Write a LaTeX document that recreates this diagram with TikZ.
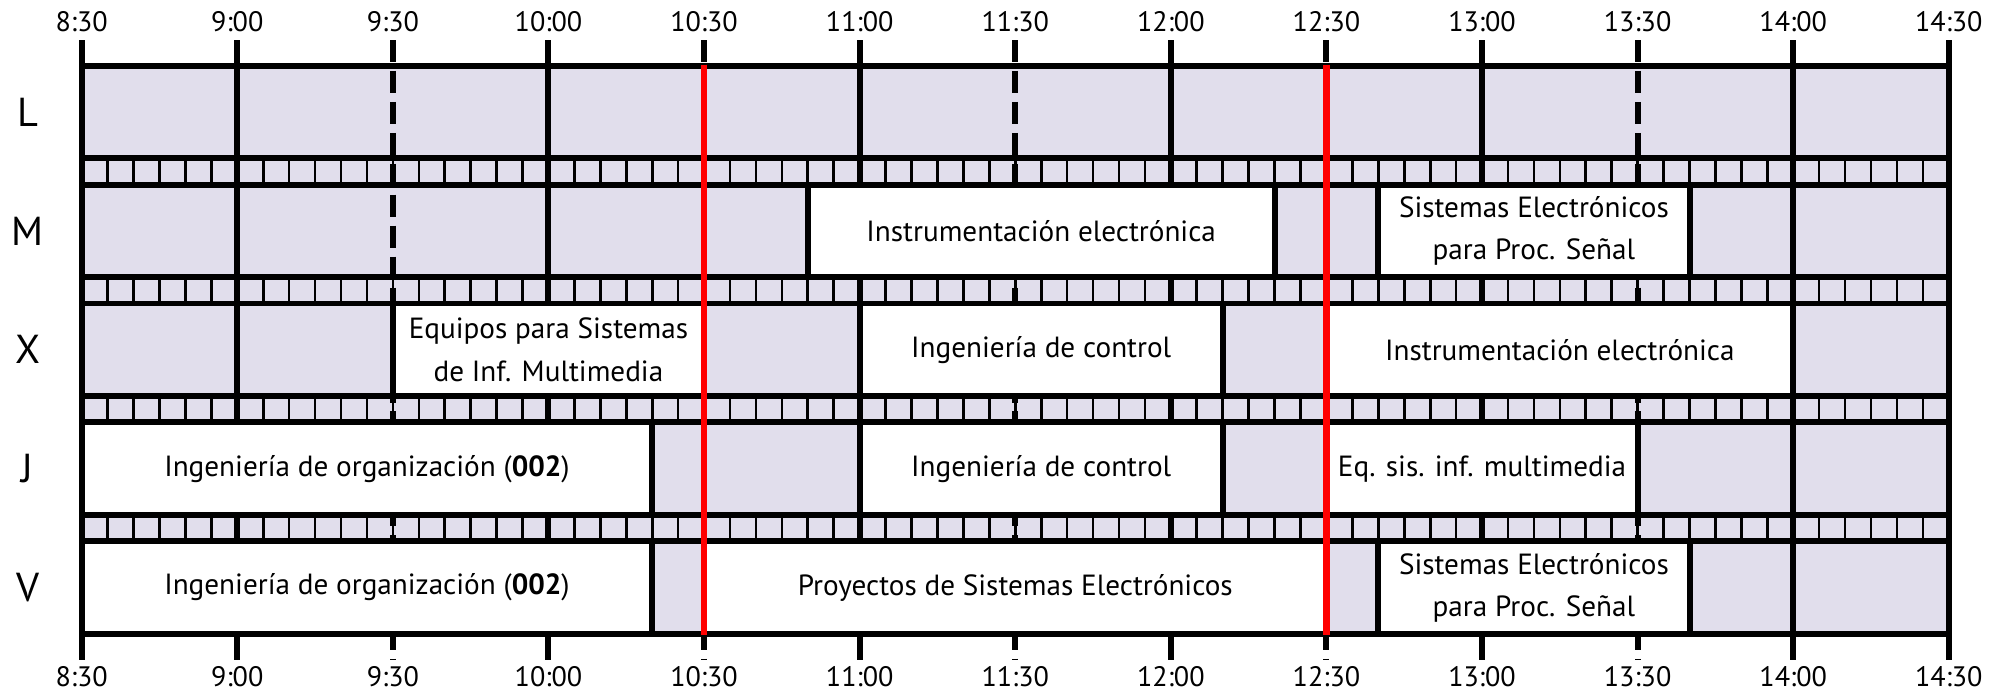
\documentclass[tikz,border=0pt]{standalone}
\usepackage{fontspec}
\setmainfont{PT Sans}
\usetikzlibrary{calc}
\definecolor{slotgrey}{RGB}{225,222,236}
\definecolor{nowred}{RGB}{255,0,0}

\tikzset{
  course/.style={draw=black, line width=1.7pt, fill=white},
  coursetext/.style={align=center, font=\fontsize{8.3}{12}\selectfont, inner sep=0pt},
  daylabel/.style={font=\fontsize{11.5}{14}\selectfont},
  hourlabel/.style={font=\fontsize{8}{10}\selectfont},
  gridline/.style={line width=1.7pt},
  halfline/.style={line width=1.7pt, dash pattern=on 6.3pt off 2.5pt},
  tickline/.style={line width=0.75pt},
  nowline/.style={draw=nowred, line width=1.85pt}
}

\begin{document}
\begin{tikzpicture}[x=0.01cm, y=-0.01cm]
  \useasboundingbox (0,0) rectangle (2003,694);
  \begin{scope}[shift={(81.7,65.7)}, x=0.05183cm]
    % free slots
    \fill[slotgrey] (0,0) rectangle (360,568.2);

    % 5-minute ticks between the days
    \foreach \k in {0,...,3}
      \foreach \m in {5,10,...,355}
        \draw[tickline] (\m,{92.6+118.9*\k}) -- (\m,{118.9+118.9*\k});

    % hours and half hours
    \foreach \i in {0,1,3,5,7,9,11,12}
      \draw[gridline] ({30*\i},-25.7) -- ({30*\i},594.3);
    \foreach \i in {2,4,...,10}
      \draw[halfline] ({30*\i},-25.7) -- ({30*\i},594.3);

    % day rows
    \foreach \k in {0,...,4} {
      \draw[gridline] (0,{118.9*\k}) -- (360,{118.9*\k});
      \draw[gridline] (0,{118.9*\k+92.6}) -- (360,{118.9*\k+92.6});
    }

    % day and time labels
    \foreach \d [count=\k from 0] in {L,M,X,J,V}
      \node[daylabel] (day\d) at (-10.4,{118.9*\k+46.3}) {\d};
    \foreach \t [count=\i from 0] in {8:30,9:00,9:30,10:00,10:30,11:00,11:30,12:00,12:30,13:00,13:30,14:00,14:30} {
      \node[hourlabel] (top\i) at ({30*\i},-44.2) {\t};
      \node[hourlabel] (bot\i) at ({30*\i},611.3) {\t};
    }

    % Tuesday
    \draw[course] (140,118.9) rectangle (230,211.5) node[midway, coursetext] (mInstr) {Instrumentación electrónica};
    \draw[course] (250,118.9) rectangle (310,211.5) node[midway, coursetext] (mSeps) {Sistemas Electrónicos\\para Proc. Señal};

    % Wednesday
    \draw[course] (60,237.8) rectangle (120,330.4) node[midway, coursetext] (xEsim) {Equipos para Sistemas\\de Inf. Multimedia};
    \draw[course] (150,237.8) rectangle (220,330.4) node[midway, coursetext] (xCtrl) {Ingeniería de control};
    \draw[course] (240,237.8) rectangle (330,330.4) node[midway, coursetext] (xInstr) {Instrumentación electrónica};

    % Thursday
    \draw[course] (0,356.7) rectangle (110,449.3) node[midway, coursetext] (jOrg) {Ingeniería de organización (\textbf{002})};
    \draw[course] (150,356.7) rectangle (220,449.3) node[midway, coursetext] (jCtrl) {Ingeniería de control};
    \draw[course] (240,356.7) rectangle (300,449.3) node[midway, coursetext] (jEsim) {Eq. sis. inf. multimedia};

    % Friday
    \draw[course] (0,475.6) rectangle (110,568.2) node[midway, coursetext] (vOrg) {Ingeniería de organización (\textbf{002})};
    \draw[course] (120,475.6) rectangle (240,568.2) node[midway, coursetext] (vProy) {Proyectos de Sistemas Electrónicos};
    \draw[course] (250,475.6) rectangle (310,568.2) node[midway, coursetext] (vSeps) {Sistemas Electrónicos\\para Proc. Señal};

    % red marks
    \draw[nowline] (120,-1) -- (120,569.2);
    \draw[nowline] (240,-1) -- (240,569.2);
  \end{scope}
\end{tikzpicture}
\end{document}
